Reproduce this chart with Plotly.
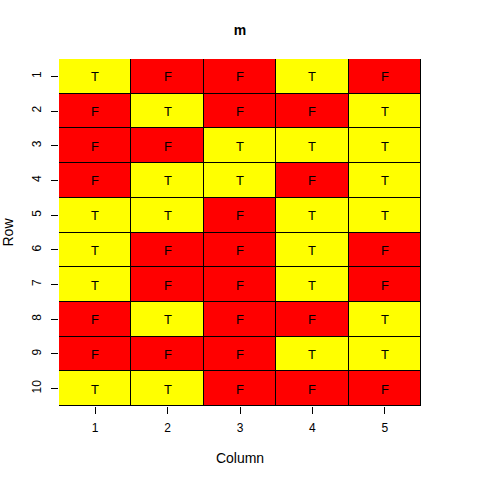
import plotly.graph_objects as go

rows = [1, 2, 3, 4, 5, 6, 7, 8, 9, 10]
cols = [1, 2, 3, 4, 5]
values = [
    "TFFTF",
    "FTFFT",
    "FFTTT",
    "FTTFT",
    "TTFTT",
    "TFFTF",
    "TFFTF",
    "FTFFT",
    "FFFTT",
    "TTFFF",
]
labels = [[ch for ch in r] for r in values]
z = [[1 if ch == "T" else 0 for ch in r] for r in values]

fig = go.Figure(go.Heatmap(
    x=cols, y=rows, z=z, text=labels, texttemplate="%{text}",
    textfont=dict(family="Liberation Sans, Arial", size=13, color="black"),
    colorscale=[[0, "#FF0000"], [1, "#FFFF00"]], zmin=0, zmax=1,
    showscale=False, xgap=1, ygap=1, hoverinfo="skip",
))

fig.update_layout(
    width=480, height=480,
    margin=dict(l=59, r=59, t=59, b=74),
    paper_bgcolor="white", plot_bgcolor="black",
    font=dict(family="Liberation Sans, Arial", size=12, color="black"),
    title=dict(text="<b>m</b>", x=0.5, xanchor="center", y=0.937, yanchor="middle",
               font=dict(size=14)),
)
fig.update_xaxes(
    tickvals=cols, ticktext=[str(c) for c in cols], automargin=False,
    ticks="outside", ticklen=7, tickcolor="black", showgrid=False, zeroline=False,
    showline=False, range=[0.5, 5.5], ticklabelstandoff=4,
    title=dict(text="Column", standoff=18),
)
fig.update_yaxes(
    tickvals=rows, ticktext=[str(r) for r in rows], automargin=False,
    ticks="outside", ticklen=7, tickcolor="black", showgrid=False, zeroline=False,
    showline=False, range=[10.5, 0.5], tickangle=-90, ticklabelstandoff=5,
    title=dict(text="Row", standoff=14),
)

fig.write_html("out.html")
